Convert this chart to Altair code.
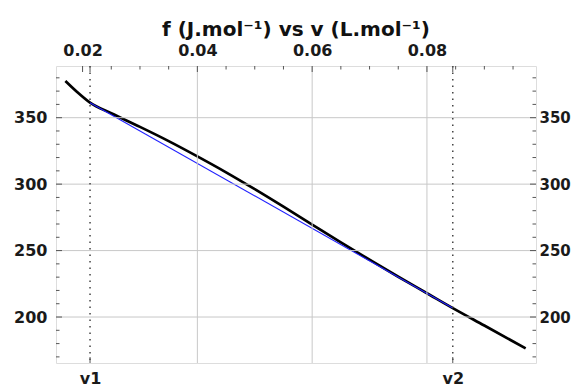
import altair as alt
import pandas as pd

# ---- data ----
v_curve = [0.0170, 0.0190, 0.0213, 0.0250, 0.0300, 0.0350, 0.0400, 0.0450, 0.0500,
           0.0550, 0.0600, 0.0650, 0.0700, 0.0750, 0.0800, 0.0845, 0.0900, 0.0972]
f_curve = [377.6, 369.5, 361.3, 353.3, 343.1, 332.4, 320.9, 308.9, 296.2,
           283.0, 269.5, 256.1, 243.1, 230.3, 217.9, 206.7, 193.6, 176.4]

v_tangent = [0.0213, 0.0845]
f_tangent = [361.3, 206.8]

v_marks = [0.0213, 0.0845]
v_mark_labels = ["v1", "v2"]

x_tick_values = [0.02, 0.04, 0.06, 0.08]
x_grid_values = [0.04, 0.06, 0.08]
x_minor_values = [0.025, 0.03, 0.035, 0.045, 0.05, 0.055, 0.065, 0.07, 0.075, 0.085, 0.09, 0.095]
y_tick_values = [200, 250, 300, 350]
y_minor_values = [170, 180, 190, 210, 220, 230, 240, 260, 270, 280, 290,
                  310, 320, 330, 340, 360, 370, 380]

X_DOMAIN = [0.01537, 0.0990]
Y_DOMAIN = [165.4, 388.9]
W, H = 480, 297
FONT = "DejaVu Sans"
LBL = "#1a1a1a"

xs = alt.Scale(domain=X_DOMAIN, nice=False, zero=False)
ys = alt.Scale(domain=Y_DOMAIN, nice=False, zero=False)

curve_df = pd.DataFrame({"v": v_curve, "f": f_curve})
tan_df = pd.DataFrame({"v": v_tangent, "f": f_tangent})
marks_df = pd.DataFrame({"v": v_marks, "label": v_mark_labels})
xgrid_df = pd.DataFrame({"v": x_grid_values})
ygrid_df = pd.DataFrame({"f": y_tick_values})
xmaj_df = pd.DataFrame({"v": x_tick_values + v_marks})
xmin_df = pd.DataFrame({"v": x_minor_values})
ymaj_df = pd.DataFrame({"f": y_tick_values})
ymin_df = pd.DataFrame({"f": y_minor_values})

xgrid = alt.Chart(xgrid_df).mark_rule(color="#c8c8c8", strokeWidth=1).encode(
    x=alt.X("v:Q", scale=xs, axis=None))
ygrid = alt.Chart(ygrid_df).mark_rule(color="#c8c8c8", strokeWidth=1).encode(
    y=alt.Y("f:Q", scale=ys, axis=None))

dotted = alt.Chart(marks_df).mark_rule(color="#444444", strokeWidth=1.5, strokeDash=[1.5, 5]).encode(
    x=alt.X("v:Q", scale=xs, axis=None))

# inward frame ticks
top_major = alt.Chart(xmaj_df).mark_rule(color="#555555", strokeWidth=1).encode(
    x=alt.X("v:Q", scale=xs, axis=None), y=alt.value(0), y2=alt.value(6))
top_minor = alt.Chart(xmin_df).mark_rule(color="#555555", strokeWidth=1).encode(
    x=alt.X("v:Q", scale=xs, axis=None), y=alt.value(0), y2=alt.value(3.5))
bot_major = alt.Chart(marks_df).mark_rule(color="#555555", strokeWidth=1).encode(
    x=alt.X("v:Q", scale=xs, axis=None), y=alt.value(H), y2=alt.value(H - 6))
left_major = alt.Chart(ymaj_df).mark_rule(color="#555555", strokeWidth=1).encode(
    y=alt.Y("f:Q", scale=ys, axis=None), x=alt.value(0), x2=alt.value(6))
left_minor = alt.Chart(ymin_df).mark_rule(color="#555555", strokeWidth=1).encode(
    y=alt.Y("f:Q", scale=ys, axis=None), x=alt.value(0), x2=alt.value(3.5))
right_major = alt.Chart(ymaj_df).mark_rule(color="#555555", strokeWidth=1).encode(
    y=alt.Y("f:Q", scale=ys, axis=None), x=alt.value(W), x2=alt.value(W - 6))
right_minor = alt.Chart(ymin_df).mark_rule(color="#555555", strokeWidth=1).encode(
    y=alt.Y("f:Q", scale=ys, axis=None), x=alt.value(W), x2=alt.value(W - 3.5))

axis_common = dict(ticks=False, domain=False, grid=False, labelFont=FONT,
                   labelFontWeight="bold", labelColor=LBL, title=None)

curve = alt.Chart(curve_df).mark_line(color="black", strokeWidth=2.7, interpolate="monotone").encode(
    x=alt.X("v:Q", scale=xs,
            axis=alt.Axis(orient="top", values=x_tick_values, format=".2f",
                          labelPadding=8, labelFontSize=16, **axis_common)),
    y=alt.Y("f:Q", scale=ys,
            axis=alt.Axis(orient="left", values=y_tick_values, labelPadding=9,
                          labelFontSize=16, **axis_common)),
)

tangent = alt.Chart(tan_df).mark_line(color="#2020ff", strokeWidth=1.1).encode(
    x=alt.X("v:Q", scale=xs,
            axis=alt.Axis(orient="bottom", values=v_marks,
                          labelExpr="datum.value < 0.05 ? 'v1' : 'v2'",
                          labelPadding=7, labelFontSize=16, **axis_common)),
    y=alt.Y("f:Q", scale=ys,
            axis=alt.Axis(orient="right", values=y_tick_values, labelPadding=3,
                          labelFontSize=15, **axis_common)),
)

chart = alt.layer(
    curve, tangent, xgrid, ygrid, dotted,
    top_major, top_minor, bot_major, left_major, left_minor, right_major, right_minor,
).resolve_axis(x="independent", y="independent").properties(
    width=W, height=H,
    title=alt.TitleParams("f (J.mol⁻¹) vs v (L.mol⁻¹)", font=FONT, fontSize=20,
                          fontWeight="bold", color="#111111", offset=2, anchor="middle"),
    autosize=alt.AutoSizeParams(type="none"),
    padding={"left": 48, "top": 58, "right": 35, "bottom": 24},
).configure_view(stroke="#666666", strokeWidth=1.5).configure(background="white")

chart.save("out.html", embed_options={"renderer": "svg", "actions": False})
